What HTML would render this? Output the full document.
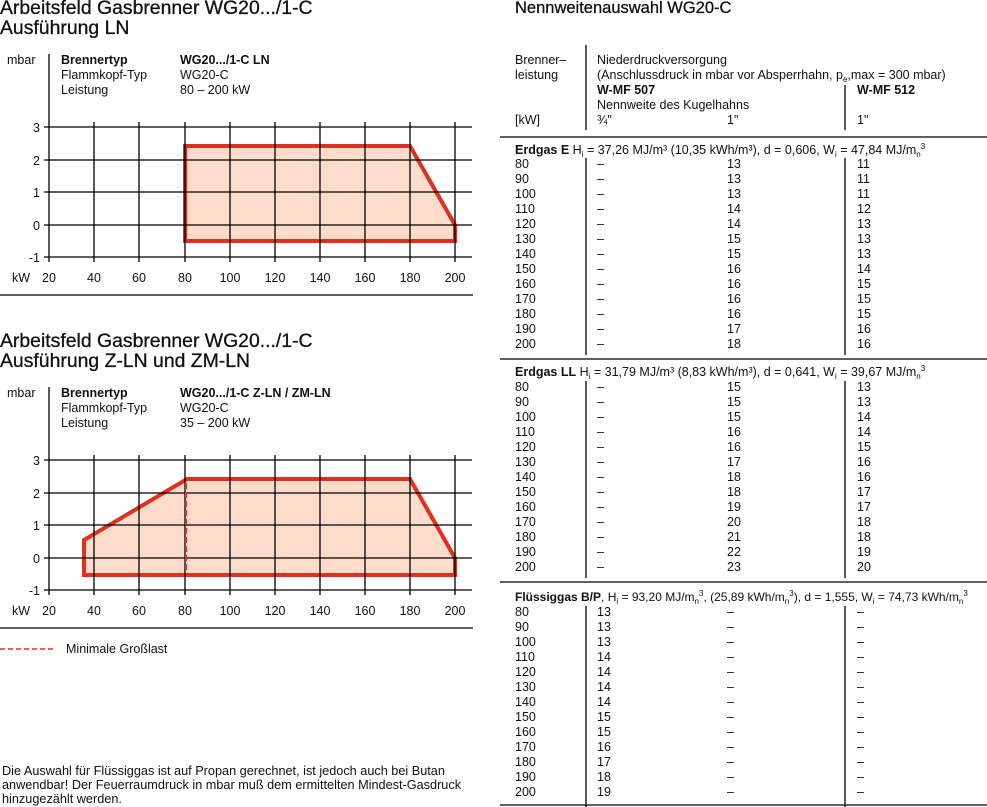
<!DOCTYPE html>
<html><head><meta charset="utf-8"><style>
body{margin:0;width:987px;height:807px;background:#fff;position:relative;overflow:hidden;font-family:"Liberation Sans",sans-serif;color:#111}
.a{position:absolute;white-space:nowrap}
.t{font-size:19.4px;-webkit-text-stroke:0.3px #111;line-height:20px}
.s{font-size:12.5px;line-height:15px}
.r{position:absolute;left:515px;width:470px;height:15px;font-size:12.5px;line-height:15px}
.r span{position:absolute;top:0}
.c0{left:0}.c1{left:82px}.c2{left:212px}.c3{left:342px}
sub,sup{font-size:8px;line-height:0;position:relative;vertical-align:baseline}
sub{top:3px}sup{top:-5px}
</style></head><body>
<div class="a t" style="left:0;top:-2px">Arbeitsfeld Gasbrenner WG20.../1-C<br>Ausführung LN</div>
<div class="a t" style="left:0;top:331px">Arbeitsfeld Gasbrenner WG20.../1-C<br>Ausführung Z-LN und ZM-LN</div>
<div class="a t" style="left:515px;top:-2px;font-size:16.5px">Nennweitenauswahl WG20-C</div>

<svg class="a" style="left:0;top:0" width="500" height="807">
<g font-family="Liberation Sans" font-size="12.5" fill="#111">
<g>
<polygon points="185,146 410,146 455,225 455,241 185,241" fill="#fddccc" stroke="#e03020" stroke-width="4" stroke-linejoin="miter"/>
<line x1="49" y1="54" x2="49" y2="262" stroke="#000" stroke-width="1.3"/>
<g stroke="#000" stroke-width="1.3">
<line x1="44" y1="127" x2="472" y2="127"/><line x1="44" y1="160" x2="472" y2="160"/><line x1="44" y1="192" x2="472" y2="192"/><line x1="44" y1="225" x2="472" y2="225"/><line x1="44" y1="257" x2="472" y2="257"/>
<line x1="94" y1="122" x2="94" y2="262"/><line x1="139" y1="122" x2="139" y2="262"/><line x1="185" y1="122" x2="185" y2="262"/><line x1="230" y1="122" x2="230" y2="262"/><line x1="275" y1="122" x2="275" y2="262"/><line x1="320" y1="122" x2="320" y2="262"/><line x1="365" y1="122" x2="365" y2="262"/><line x1="410" y1="122" x2="410" y2="262"/><line x1="455" y1="122" x2="455" y2="262"/>
<line x1="0" y1="295" x2="473" y2="295"/>
</g>
<g text-anchor="end"><text x="40" y="132">3</text><text x="40" y="165">2</text><text x="40" y="197">1</text><text x="40" y="230">0</text><text x="40" y="262">-1</text></g>
<text x="12" y="282">kW</text>
<g text-anchor="middle"><text x="49" y="282">20</text><text x="94" y="282">40</text><text x="139" y="282">60</text><text x="185" y="282">80</text><text x="230" y="282">100</text><text x="275" y="282">120</text><text x="320" y="282">140</text><text x="365" y="282">160</text><text x="410" y="282">180</text><text x="455" y="282">200</text></g>
<text x="7" y="64">mbar</text>
<text x="61" y="64" font-weight="bold">Brennertyp</text><text x="61" y="79">Flammkopf-Typ</text><text x="61" y="94">Leistung</text>
<text x="180" y="64" font-weight="bold">WG20.../1-C LN</text><text x="180" y="79">WG20-C</text><text x="180" y="94">80 – 200 kW</text>
</g>
<g transform="translate(0,333)">
<polygon points="84,207 187,146 410,146 455,225 455,242 84,242" fill="#fddccc" stroke="#e03020" stroke-width="4"/>
<line x1="49" y1="54" x2="49" y2="262" stroke="#000" stroke-width="1.3"/>
<g stroke="#000" stroke-width="1.3">
<line x1="44" y1="127" x2="472" y2="127"/><line x1="44" y1="160" x2="472" y2="160"/><line x1="44" y1="192" x2="472" y2="192"/><line x1="44" y1="225" x2="472" y2="225"/><line x1="44" y1="257" x2="472" y2="257"/>
<line x1="94" y1="122" x2="94" y2="262"/><line x1="139" y1="122" x2="139" y2="262"/><line x1="185" y1="122" x2="185" y2="262"/><line x1="230" y1="122" x2="230" y2="262"/><line x1="275" y1="122" x2="275" y2="262"/><line x1="320" y1="122" x2="320" y2="262"/><line x1="365" y1="122" x2="365" y2="262"/><line x1="410" y1="122" x2="410" y2="262"/><line x1="455" y1="122" x2="455" y2="262"/>
<line x1="0" y1="295" x2="473" y2="295"/>
</g>
<line x1="186" y1="150" x2="186" y2="240" stroke="#e03020" stroke-width="2" stroke-dasharray="6,3"/>
<g text-anchor="end"><text x="40" y="132">3</text><text x="40" y="165">2</text><text x="40" y="197">1</text><text x="40" y="230">0</text><text x="40" y="262">-1</text></g>
<text x="12" y="282">kW</text>
<g text-anchor="middle"><text x="49" y="282">20</text><text x="94" y="282">40</text><text x="139" y="282">60</text><text x="185" y="282">80</text><text x="230" y="282">100</text><text x="275" y="282">120</text><text x="320" y="282">140</text><text x="365" y="282">160</text><text x="410" y="282">180</text><text x="455" y="282">200</text></g>
<text x="7" y="64">mbar</text>
<text x="61" y="64" font-weight="bold">Brennertyp</text><text x="61" y="79">Flammkopf-Typ</text><text x="61" y="94">Leistung</text>
<text x="180" y="64" font-weight="bold">WG20.../1-C Z-LN / ZM-LN</text><text x="180" y="79">WG20-C</text><text x="180" y="94">35 – 200 kW</text>
</g>
<line x1="0" y1="649" x2="56" y2="649" stroke="#e03020" stroke-width="1.5" stroke-dasharray="5,3"/>
<text x="66" y="653">Minimale Großlast</text>
<text x="2" y="775" font-size="12.7">Die Auswahl für Flüssiggas ist auf Propan gerechnet, ist jedoch auch bei Butan</text>
<text x="2" y="789" font-size="12.7">anwendbar! Der Feuerraumdruck in mbar muß dem ermittelten Mindest-Gasdruck</text>
<text x="2" y="803" font-size="12.7">hinzugezählt werden.</text>
</g>
</svg>

<svg class="a" style="left:500px;top:0" width="487" height="807">
<g stroke="#000" stroke-width="1.3">
<line x1="86" y1="45" x2="86" y2="130"/><line x1="345" y1="85" x2="345" y2="130"/>
<line x1="0" y1="137" x2="487" y2="137"/>
<line x1="86" y1="158" x2="86" y2="355"/><line x1="345" y1="158" x2="345" y2="355"/>
<line x1="0" y1="359" x2="487" y2="359"/>
<line x1="86" y1="381" x2="86" y2="578"/><line x1="345" y1="381" x2="345" y2="578"/>
<line x1="0" y1="582" x2="487" y2="582"/>
<line x1="86" y1="606" x2="86" y2="807"/><line x1="345" y1="606" x2="345" y2="807"/>
<line x1="0" y1="805" x2="487" y2="805"/>
</g></svg>

<div class="a s" style="left:515px;top:53px">Brenner–<br>leistung<br><br><br>[kW]</div>
<div class="a s" style="left:597px;top:53px">Niederdruckversorgung<br>(Anschlussdruck in mbar vor Absperrhahn, p<sub>e</sub>,max = 300 mbar)<br><b>W-MF 507</b><br>Nennweite des Kugelhahns<br>¾"</div>
<div class="a s" style="left:857px;top:83px"><b>W-MF 512</b><br><br>1"</div>
<div class="a s" style="left:727px;top:113px">1"</div>

<div class="a s" style="left:515px;top:143px"><b>Erdgas E</b> H<sub>i</sub> = 37,26 MJ/m³ (10,35 kWh/m³), d = 0,606, W<sub>i</sub> = 47,84 MJ/m<sub>n</sub><sup>3</sup></div>
<div class="r" style="top:157px"><span class="c0">80</span><span class="c1">–</span><span class="c2">13</span><span class="c3">11</span></div>
<div class="r" style="top:172px"><span class="c0">90</span><span class="c1">–</span><span class="c2">13</span><span class="c3">11</span></div>
<div class="r" style="top:187px"><span class="c0">100</span><span class="c1">–</span><span class="c2">13</span><span class="c3">11</span></div>
<div class="r" style="top:202px"><span class="c0">110</span><span class="c1">–</span><span class="c2">14</span><span class="c3">12</span></div>
<div class="r" style="top:217px"><span class="c0">120</span><span class="c1">–</span><span class="c2">14</span><span class="c3">13</span></div>
<div class="r" style="top:232px"><span class="c0">130</span><span class="c1">–</span><span class="c2">15</span><span class="c3">13</span></div>
<div class="r" style="top:247px"><span class="c0">140</span><span class="c1">–</span><span class="c2">15</span><span class="c3">13</span></div>
<div class="r" style="top:262px"><span class="c0">150</span><span class="c1">–</span><span class="c2">16</span><span class="c3">14</span></div>
<div class="r" style="top:277px"><span class="c0">160</span><span class="c1">–</span><span class="c2">16</span><span class="c3">15</span></div>
<div class="r" style="top:292px"><span class="c0">170</span><span class="c1">–</span><span class="c2">16</span><span class="c3">15</span></div>
<div class="r" style="top:307px"><span class="c0">180</span><span class="c1">–</span><span class="c2">16</span><span class="c3">15</span></div>
<div class="r" style="top:322px"><span class="c0">190</span><span class="c1">–</span><span class="c2">17</span><span class="c3">16</span></div>
<div class="r" style="top:337px"><span class="c0">200</span><span class="c1">–</span><span class="c2">18</span><span class="c3">16</span></div>

<div class="a s" style="left:515px;top:365px"><b>Erdgas LL</b> H<sub>i</sub> = 31,79 MJ/m³ (8,83 kWh/m³), d = 0,641, W<sub>i</sub> = 39,67 MJ/m<sub>n</sub><sup>3</sup></div>
<div class="r" style="top:380px"><span class="c0">80</span><span class="c1">–</span><span class="c2">15</span><span class="c3">13</span></div>
<div class="r" style="top:395px"><span class="c0">90</span><span class="c1">–</span><span class="c2">15</span><span class="c3">13</span></div>
<div class="r" style="top:410px"><span class="c0">100</span><span class="c1">–</span><span class="c2">15</span><span class="c3">14</span></div>
<div class="r" style="top:425px"><span class="c0">110</span><span class="c1">–</span><span class="c2">16</span><span class="c3">14</span></div>
<div class="r" style="top:440px"><span class="c0">120</span><span class="c1">–</span><span class="c2">16</span><span class="c3">15</span></div>
<div class="r" style="top:455px"><span class="c0">130</span><span class="c1">–</span><span class="c2">17</span><span class="c3">16</span></div>
<div class="r" style="top:470px"><span class="c0">140</span><span class="c1">–</span><span class="c2">18</span><span class="c3">16</span></div>
<div class="r" style="top:485px"><span class="c0">150</span><span class="c1">–</span><span class="c2">18</span><span class="c3">17</span></div>
<div class="r" style="top:500px"><span class="c0">160</span><span class="c1">–</span><span class="c2">19</span><span class="c3">17</span></div>
<div class="r" style="top:515px"><span class="c0">170</span><span class="c1">–</span><span class="c2">20</span><span class="c3">18</span></div>
<div class="r" style="top:530px"><span class="c0">180</span><span class="c1">–</span><span class="c2">21</span><span class="c3">18</span></div>
<div class="r" style="top:545px"><span class="c0">190</span><span class="c1">–</span><span class="c2">22</span><span class="c3">19</span></div>
<div class="r" style="top:560px"><span class="c0">200</span><span class="c1">–</span><span class="c2">23</span><span class="c3">20</span></div>

<div class="a s" style="left:515px;top:590px;font-size:12px"><b>Flüssiggas B/P</b>, H<sub>i</sub> = 93,20 MJ/m<sub>n</sub><sup>3</sup>, (25,89 kWh/m<sub>n</sub><sup>3</sup>), d = 1,555, W<sub>i</sub> = 74,73 kWh/m<sub>n</sub><sup>3</sup></div>
<div class="r" style="top:605px"><span class="c0">80</span><span class="c1">13</span><span class="c2">–</span><span class="c3">–</span></div>
<div class="r" style="top:620px"><span class="c0">90</span><span class="c1">13</span><span class="c2">–</span><span class="c3">–</span></div>
<div class="r" style="top:635px"><span class="c0">100</span><span class="c1">13</span><span class="c2">–</span><span class="c3">–</span></div>
<div class="r" style="top:650px"><span class="c0">110</span><span class="c1">14</span><span class="c2">–</span><span class="c3">–</span></div>
<div class="r" style="top:665px"><span class="c0">120</span><span class="c1">14</span><span class="c2">–</span><span class="c3">–</span></div>
<div class="r" style="top:680px"><span class="c0">130</span><span class="c1">14</span><span class="c2">–</span><span class="c3">–</span></div>
<div class="r" style="top:695px"><span class="c0">140</span><span class="c1">14</span><span class="c2">–</span><span class="c3">–</span></div>
<div class="r" style="top:710px"><span class="c0">150</span><span class="c1">15</span><span class="c2">–</span><span class="c3">–</span></div>
<div class="r" style="top:725px"><span class="c0">160</span><span class="c1">15</span><span class="c2">–</span><span class="c3">–</span></div>
<div class="r" style="top:740px"><span class="c0">170</span><span class="c1">16</span><span class="c2">–</span><span class="c3">–</span></div>
<div class="r" style="top:755px"><span class="c0">180</span><span class="c1">17</span><span class="c2">–</span><span class="c3">–</span></div>
<div class="r" style="top:770px"><span class="c0">190</span><span class="c1">18</span><span class="c2">–</span><span class="c3">–</span></div>
<div class="r" style="top:785px"><span class="c0">200</span><span class="c1">19</span><span class="c2">–</span><span class="c3">–</span></div>
</body></html>
